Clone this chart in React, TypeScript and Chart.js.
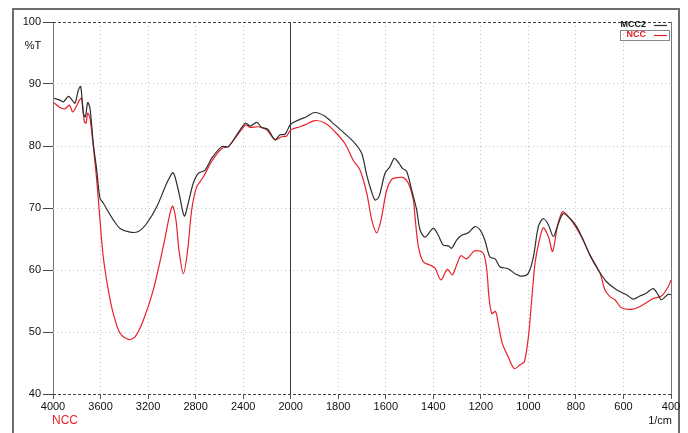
import { useEffect, useRef } from 'react';
import { Chart, registerables } from 'chart.js';

Chart.register(...registerables);

// Axis tick labels (wavenumber, 1/cm) — the axis is split: 400 cm-1 per step above 2000, 200 below
const xTickWavenumbers = [4000, 3600, 3200, 2800, 2400, 2000, 1800, 1600, 1400, 1200, 1000, 800, 600, 400];
const yTickValues = [40, 50, 60, 70, 80, 90, 100];

const seriesNames = ['MCC2', 'NCC'];

const mccWavenumber = [
  3992, 3941, 3913, 3871, 3843, 3815, 3787, 3767, 3745, 3728, 3708, 3689, 3661, 3632, 3605, 3577,
  3535, 3493, 3436, 3352, 3282, 3212, 3127, 3043, 2993, 2973, 2935, 2895, 2862, 2820, 2777, 2721,
  2665, 2581, 2525, 2454, 2379, 2342, 2286, 2244, 2193, 2132, 2090, 2048, 2000, 1961, 1940, 1898,
  1856, 1814, 1772, 1729, 1701, 1680, 1662, 1645, 1629, 1603, 1582, 1564, 1544, 1530, 1512, 1491,
  1470, 1456, 1435, 1400, 1379, 1358, 1337, 1323, 1302, 1281, 1253, 1225, 1204, 1183, 1162, 1140,
  1119, 1085, 1056, 1028, 1000, 979, 958, 937, 916, 895, 874, 853, 825, 797, 769, 741, 706, 671,
  629, 587, 559, 531, 503, 475, 454, 440, 412, 400,
];
const mccTransmittance = [
  87.7, 87.4, 87.1, 88.0, 87.5, 86.9, 89.0, 89.6, 85.3, 84.7, 87.0, 86.1, 80.4, 76.1, 71.6, 70.8,
  69.4, 68.1, 66.7, 66.1, 66.2, 67.5, 70.2, 74.0, 75.7, 75.0, 72.0, 68.7, 70.8, 74.0, 75.6, 76.1,
  78.0, 79.9, 79.9, 81.8, 83.7, 83.2, 83.8, 83.0, 82.7, 81.0, 81.8, 81.9, 83.5, 84.3, 84.6, 85.4,
  84.8, 83.4, 82.0, 80.4, 78.8, 75.3, 72.9, 71.3, 71.8, 75.6, 76.7, 78.0, 77.2, 76.4, 75.9, 72.9,
  69.7, 66.5, 65.3, 66.7, 65.6, 64.0, 63.9, 63.5, 64.8, 65.6, 66.0, 67.0, 66.5, 64.8, 62.1, 61.8,
  60.5, 60.2, 59.4, 59.0, 59.5, 62.1, 67.0, 68.3, 67.3, 65.4, 67.5, 69.1, 68.3, 67.0, 64.8, 62.4, 60.0, 58.1,
  56.8, 56.0, 55.3, 55.8, 56.3, 57.0, 56.0, 55.2, 56.1, 56.0,
];

const nccWavenumber = [
  3992, 3941, 3899, 3862, 3834, 3806, 3778, 3759, 3736, 3722, 3708, 3689, 3661, 3632, 3605, 3577,
  3535, 3493, 3436, 3366, 3310, 3240, 3156, 3072, 3016, 2993, 2965, 2940, 2903, 2867, 2833, 2791,
  2735, 2665, 2581, 2525, 2454, 2379, 2342, 2272, 2202, 2132, 2076, 2034, 2000, 1961, 1940, 1898,
  1856, 1814, 1772, 1737, 1708, 1680, 1659, 1638, 1620, 1596, 1575, 1554, 1526, 1505, 1484, 1477,
  1463, 1442, 1414, 1393, 1368, 1341, 1320, 1302, 1284, 1260, 1225, 1190, 1175, 1166, 1154, 1138,
  1127, 1110, 1085, 1059, 1035, 1017, 1000, 986, 972, 955, 937, 916, 898, 878, 856, 825, 797, 769,
  741, 699, 678, 657, 636, 608, 559, 517, 475, 440, 412, 400,
];
const nccTransmittance = [
  87.0, 86.2, 86.0, 86.6, 85.5, 86.3, 87.4, 87.7, 83.9, 83.7, 85.3, 84.5, 79.9, 74.5, 68.1, 62.1,
  56.8, 53.0, 49.8, 48.8, 49.2, 51.9, 56.8, 63.8, 69.1, 70.3, 68.0, 63.2, 59.4, 63.2, 69.7, 73.4,
  75.0, 77.5, 79.6, 79.9, 81.6, 83.4, 83.0, 83.1, 82.6, 81.0, 81.5, 81.6, 82.6, 83.1, 83.4, 84.1,
  83.7, 82.3, 80.4, 77.7, 76.1, 72.4, 68.1, 66.0, 68.1, 72.9, 74.6, 74.9, 74.9, 74.0, 71.3, 68.6,
  63.8, 61.3, 60.8, 60.3, 58.4, 60.1, 59.2, 60.8, 62.3, 61.8, 63.1, 62.7, 60.0, 55.7, 53.0, 53.3,
  51.4, 48.2, 46.0, 44.1, 44.7, 45.2, 49.2, 55.2, 61.1, 64.6, 66.8, 65.4, 63.0, 67.0, 69.4, 68.3, 66.7, 64.8,
  62.4, 59.5, 56.8, 55.7, 55.2, 53.9, 53.7, 54.4, 55.4, 55.8, 57.3, 58.4,
];

const MCC_COLOR = '#2e2e2e';
const NCC_COLOR = '#e8202a';
const FONT = '"Liberation Sans", Arial, sans-serif';

// position on the split axis (0 = 4000, 5 = 2000, 13 = 400)
function toAxis(w: number): number {
  return w >= 2000 ? (4000 - w) / 400 : 5 + (2000 - w) / 200;
}

const textPlugin = {
  id: 'ftirText',
  afterDraw(chart: any) {
    const ctx = chart.ctx as CanvasRenderingContext2D;
    ctx.save();
    ctx.textBaseline = 'middle';
    ctx.fillStyle = '#111';
    ctx.font = `11px ${FONT}`;
    ctx.textAlign = 'center';
    ctx.fillText('%T', 33, 46);
    ctx.textAlign = 'right';
    ctx.fillText('1/cm', 672, 421);
    ctx.fillStyle = NCC_COLOR;
    ctx.textAlign = 'center';
    ctx.font = `12px ${FONT}`;
    ctx.fillText('NCC', 65, 421);

    // legend
    ctx.font = `bold 9px ${FONT}`;
    ctx.textAlign = 'right';
    ctx.fillStyle = '#111';
    ctx.fillText(seriesNames[0], 646, 25);
    ctx.fillStyle = NCC_COLOR;
    ctx.fillText(seriesNames[1], 646, 35);
    ctx.lineWidth = 1.2;
    ctx.strokeStyle = MCC_COLOR;
    ctx.beginPath();
    ctx.moveTo(654, 25.5);
    ctx.lineTo(667, 25.5);
    ctx.stroke();
    ctx.strokeStyle = NCC_COLOR;
    ctx.beginPath();
    ctx.moveTo(654, 35.5);
    ctx.lineTo(667, 35.5);
    ctx.stroke();
    ctx.lineWidth = 1;
    ctx.strokeStyle = '#888';
    ctx.strokeRect(620.5, 30.5, 49, 10);
    ctx.restore();
  },
};

export default function App() {
  const ref = useRef<HTMLCanvasElement>(null);

  useEffect(() => {
    const chart = new Chart(ref.current!, {
      type: 'line',
      data: {
        datasets: [
          {
            label: seriesNames[0],
            data: mccWavenumber.map((w, i) => ({ x: toAxis(w), y: mccTransmittance[i] })),
            borderColor: MCC_COLOR,
            borderWidth: 1.2,
            pointRadius: 0,
            tension: 0.3,
            fill: false,
          },
          {
            label: seriesNames[1],
            data: nccWavenumber.map((w, i) => ({ x: toAxis(w), y: nccTransmittance[i] })),
            borderColor: NCC_COLOR,
            borderWidth: 1.2,
            pointRadius: 0,
            tension: 0.3,
            fill: false,
          },
        ],
      },
      options: {
        responsive: false,
        devicePixelRatio: 1,
        animation: false,
        layout: { padding: { left: 0, right: 17, top: 22, bottom: 0 } },
        plugins: { legend: { display: false }, tooltip: { enabled: false } },
        scales: {
          x: {
            type: 'linear',
            min: 0,
            max: 13,
            afterBuildTicks: (s: any) => {
              s.ticks = xTickWavenumbers.map((w) => ({ value: toAxis(w) }));
            },
            afterFit: (s: any) => {
              s.height = 39;
            },
            ticks: {
              autoSkip: false,
              maxRotation: 0,
              padding: 1,
              color: '#111',
              font: { family: FONT, size: 11 },
              callback: (_v: any, i: number) => String(xTickWavenumbers[i]),
            },
            grid: {
              color: (c: any) => {
                const i = c.index;
                if (i === 5) return '#3a3a3a';
                if (i === 0 || i === xTickWavenumbers.length - 1) return '#777';
                return '#c4c4c4';
              },
              lineWidth: 1,
              tickLength: 5,
              tickColor: '#555',
            },
            border: {
              display: false,
              dash: (c: any) => {
                const i = c.index;
                if (i === 0 || i === 5 || i === xTickWavenumbers.length - 1) return [];
                return [1, 3];
              },
            },
          },
          y: {
            type: 'linear',
            min: 40,
            max: 100,
            afterBuildTicks: (s: any) => {
              s.ticks = yTickValues.map((v) => ({ value: v }));
            },
            afterFit: (s: any) => {
              s.width = 53;
            },
            ticks: {
              padding: 2,
              color: '#111',
              font: { family: FONT, size: 11 },
            },
            grid: {
              color: (c: any) => {
                const v = c.tick ? c.tick.value : 0;
                return v === 40 || v === 100 ? '#444' : '#c4c4c4';
              },
              lineWidth: 1,
              tickLength: 10,
              tickColor: '#444',
            },
            border: {
              display: false,
              dash: (c: any) => {
                const v = c.tick ? c.tick.value : 0;
                return v === 40 || v === 100 ? [3, 2] : [1, 3];
              },
            },
          },
        },
      },
      plugins: [textPlugin],
    } as any);
    return () => chart.destroy();
  }, []);

  return (
    <div style={{ position: 'fixed', left: 0, top: 0, width: 688, height: 433, overflow: 'hidden', background: '#fff' }}>
      <div
        style={{
          position: 'absolute',
          left: 12,
          top: 8,
          width: 664,
          height: 440,
          border: '2px solid #6e6e6e',
        }}
      />
      <canvas
        ref={ref}
        width={688}
        height={433}
        style={{ position: 'absolute', left: 0, top: 0, width: 688, height: 433 }}
      />
    </div>
  );
}
